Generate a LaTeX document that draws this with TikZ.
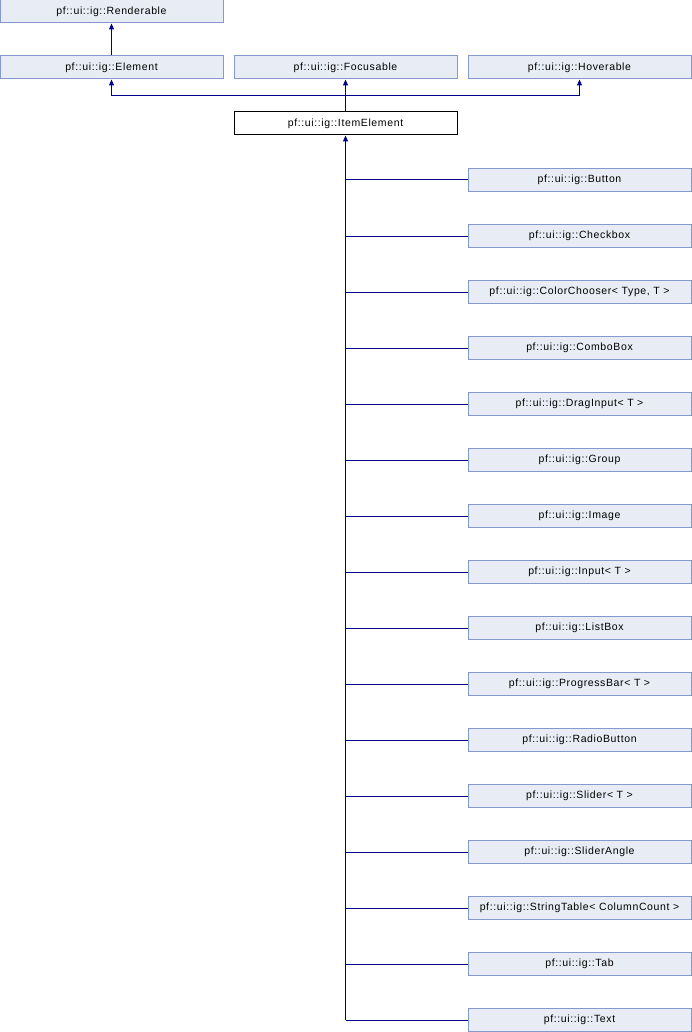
\documentclass[tikz,border=0pt]{standalone}
\usepackage{fontspec}
\newfontfamily\doxyfont[LetterSpace=6]{Liberation Sans}
\usetikzlibrary{arrows.meta, positioning, calc}
\definecolor{boxedge}{RGB}{132,154,204}
\definecolor{boxfill}{RGB}{232,236,244}
\definecolor{edgeblue}{RGB}{0,0,140}

\begin{document}
\begin{tikzpicture}[x=1pt, y=-1pt, >={Triangle[length=6pt,width=5pt]},
  cls/.style={draw=boxedge, fill=boxfill, line width=1pt, minimum width=223pt, minimum height=23pt, inner sep=0pt, font=\doxyfont\fontsize{10.5}{12}\selectfont},
  cur/.style={cls, draw=black, fill=white},
  link/.style={draw=edgeblue, line width=1pt}]
  \useasboundingbox (0,0) rectangle (692,1032);
  % base classes
  \node[cls] (rend) at (111.5,11.5) {pf::ui::ig::Renderable};
  \node[cls] (elem) at (111.5,67.5) {pf::ui::ig::Element};
  \node[cls] (focus) at (345.5,67.5) {pf::ui::ig::Focusable};
  \node[cls] (hover) at (579.5,67.5) {pf::ui::ig::Hoverable};
  \node[cur] (item) at (345.5,123.5) {pf::ui::ig::ItemElement};
  % derived classes
  \foreach \name [count=\i from 0] in {Button, Checkbox, {ColorChooser< Type, T >}, ComboBox, {DragInput< T >}, Group, Image, {Input< T >}, ListBox, {ProgressBar< T >}, RadioButton, {Slider< T >}, SliderAngle, {StringTable< ColumnCount >}, Tab, Text}
    \node[cls] (sub\i) at (579.5,180+56*\i) {pf::ui::ig::\name};
  % inheritance lines
  \draw[link,->] (elem.north) -- (rend.south);
  \coordinate (bar) at (345.5,96);
  \draw[link,->] (item.north) -- (focus.south);
  \draw[link,->] (bar) -| (elem.south);
  \draw[link,->] (bar) -| (hover.south);
  \draw[link,<-] (item.south) -- (item.south |- sub15.west);
  \foreach \i in {0,...,15}
    \draw[link] (item.south |- sub\i.west) -- (sub\i.west);
\end{tikzpicture}
\end{document}
